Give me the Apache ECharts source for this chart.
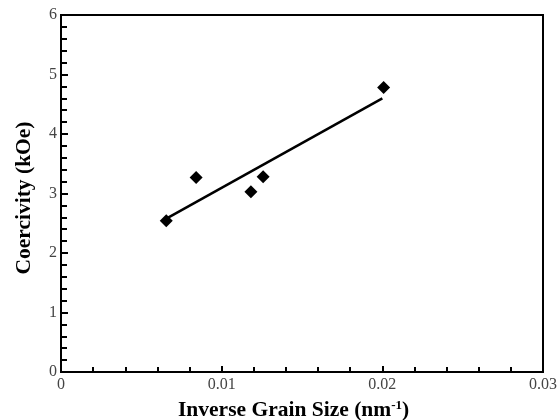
<!DOCTYPE html>
<html>
<head>
<meta charset="utf-8">
<script src="https://cdn.jsdelivr.net/npm/echarts@6/dist/echarts.min.js"></script>
<style>
  html, body { margin: 0; padding: 0; background: #fff; }
  #chart { width: 560px; height: 420px; }
</style>
</head>
<body>
<div id="chart"></div>
<script>
// measured points (inverse grain size, coercivity)
const grainInv = [0.00655, 0.00841, 0.01182, 0.01258, 0.02008];
const coercivity = [2.54, 3.27, 3.03, 3.28, 4.78];
// linear fit line ends
const fitX = [0.0065, 0.0200];
const fitY = [2.57, 4.60];

const xTicks = [0, 0.01, 0.02, 0.03];
const yTicks = [0, 1, 2, 3, 4, 5, 6];

const serif = '"Liberation Serif", "DejaVu Serif", serif';

const chart = echarts.init(document.getElementById('chart'));

const option = {
  animation: false,
  grid: {
    left: 61, right: 15, top: 15, bottom: 48,
    show: true, borderColor: '#000', borderWidth: 2
  },
  xAxis: {
    type: 'value',
    min: xTicks[0], max: xTicks[xTicks.length - 1], interval: 0.01,
    axisLine: { show: true, lineStyle: { color: '#000', width: 2 } },
    axisTick: { show: true, inside: true, length: 6, lineStyle: { color: '#000', width: 2 } },
    minorTick: { show: true, splitNumber: 5, length: 5, lineStyle: { color: '#000', width: 2 } },
    splitLine: { show: false },
    axisLabel: {
      color: '#444', fontFamily: serif, fontSize: 16, margin: 5,
      formatter: v => xTicks.includes(Math.round(v * 1000) / 1000) ? String(Math.round(v * 100) / 100) : ''
    }
  },
  yAxis: {
    type: 'value',
    min: yTicks[0], max: yTicks[yTicks.length - 1], interval: 1,
    axisLine: { show: true, lineStyle: { color: '#000', width: 2 } },
    axisTick: { show: true, inside: true, length: 7, lineStyle: { color: '#000', width: 2 } },
    minorTick: { show: true, splitNumber: 5, length: 6, lineStyle: { color: '#000', width: 2 } },
    splitLine: { show: false },
    axisLabel: { color: '#444', fontFamily: serif, fontSize: 16, margin: 4 }
  },
  graphic: [
    {
      type: 'text', left: 178, top: 399,
      style: {
        text: '{b|Inverse Grain Size (nm}{s|-1}{b|)}',
        rich: {
          b: { fontFamily: serif, fontSize: 21.5, fontWeight: 'bold', fill: '#000' },
          s: { fontFamily: serif, fontSize: 13, fontWeight: 'bold', fill: '#000', verticalAlign: 'top', padding: [0, 0, 9, 0] }
        }
      }
    },
    {
      type: 'text', x: 24, y: 198, rotation: Math.PI / 2,
      style: {
        text: 'Coercivity (kOe)', fontFamily: serif, fontSize: 21.5, fontWeight: 'bold',
        fill: '#000', align: 'center', verticalAlign: 'middle'
      }
    }
  ],
  series: [
    {
      type: 'line',
      data: fitX.map((x, i) => [x, fitY[i]]),
      symbol: 'none',
      lineStyle: { color: '#000', width: 2.5 },
      z: 2
    },
    {
      type: 'scatter',
      data: grainInv.map((x, i) => [x, coercivity[i]]),
      symbol: 'diamond',
      symbolSize: 13,
      itemStyle: { color: '#000', opacity: 1 },
      z: 3
    }
  ]
};

chart.setOption(option);
</script>
</body>
</html>
